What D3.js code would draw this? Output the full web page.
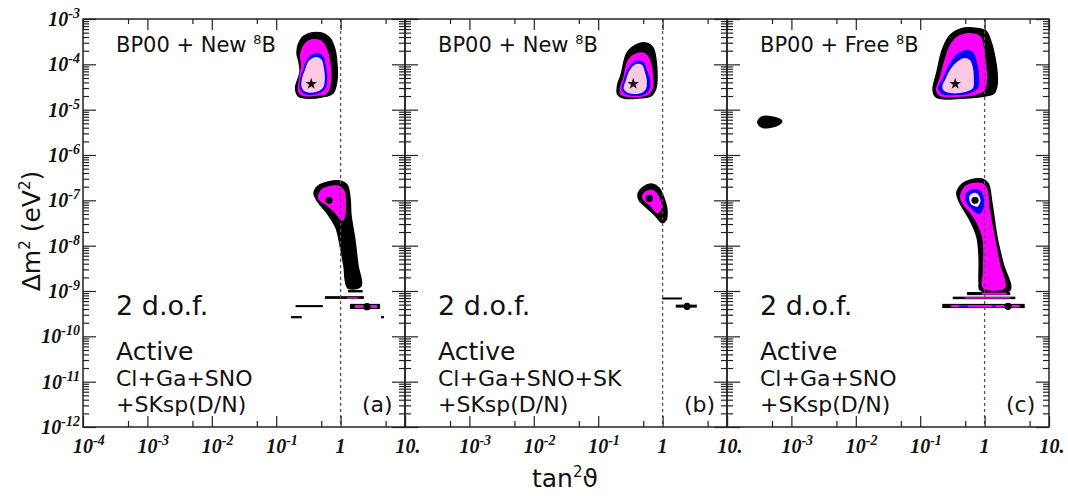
<!DOCTYPE html>
<html><head><meta charset="utf-8">
<script src="https://cdn.jsdelivr.net/npm/d3@7"></script>
<style>body{margin:0;background:#fff}svg{display:block}</style>
</head><body>
<svg id="chart" width="1068" height="496"></svg>
<script>
// ---------------- DATA ----------------
const panelIds = ["a", "b", "c"];
const panelHeads = ["BP00 + New ", "BP00 + New ", "BP00 + Free "];
const panelDataSets = ["Cl+Ga+SNO", "Cl+Ga+SNO+SK", "Cl+Ga+SNO"];
const xTickExps = [-4, -3, -2, -1, 0, 1];
const yTickExps = [-3, -4, -5, -6, -7, -8, -9, -10, -11, -12];
const levelNames = ["99.73%", "99%", "95%", "90%"];
const levelColors = ["#000000", "#ff00ff", "#0000ff", "#fcc8e4"];

// contours: [tan^2 theta, delta m^2 (eV^2)]
// panel (a)
const aLMA9973 = [[0.21,1.87e-4],[0.25,3.8e-4],[0.35,4.9e-4],[0.51,4.9e-4],[0.68,3.8e-4],[0.82,2.07e-4],[0.88,9.7e-5],[0.88,4.5e-5],[0.76,2.3e-5],[0.51,1.9e-5],[0.29,1.8e-5],[0.22,2.0e-5],[0.20,3.0e-5],[0.234,6.8e-5],[0.226,1.12e-4]];
const aLMA99 = [[0.234,1.6e-4],[0.28,2.96e-4],[0.37,3.6e-4],[0.51,3.3e-4],[0.64,1.87e-4],[0.71,8.3e-5],[0.71,4.1e-5],[0.62,2.3e-5],[0.40,2.0e-5],[0.26,2.0e-5],[0.22,2.45e-5],[0.226,5.0e-5],[0.243,9.7e-5]];
const aLMA95 = [[0.26,7.5e-5],[0.31,1.38e-4],[0.415,1.78e-4],[0.53,1.53e-4],[0.59,9.2e-5],[0.62,5.0e-5],[0.57,2.86e-5],[0.415,2.2e-5],[0.28,2.2e-5],[0.234,2.86e-5],[0.234,4.5e-5]];
const aLMA90 = [[0.28,7.5e-5],[0.32,1.18e-4],[0.415,1.45e-4],[0.51,1.25e-4],[0.55,8.3e-5],[0.57,4.7e-5],[0.53,3.0e-5],[0.415,2.45e-5],[0.29,2.45e-5],[0.25,3.0e-5],[0.25,4.7e-5]];
const aLOW9973 = [[0.386,1.45e-7],[0.446,2.07e-7],[0.64,2.54e-7],[0.98,2.67e-7],[1.26,2.18e-7],[1.40,1.12e-7],[1.45,4.7e-8],[1.67,1.33e-8],[1.86,3.7e-9],[2.07,1.29e-9],[1.30,1.16e-9],[1.12,3.7e-9],[0.98,1.03e-8],[0.85,2.45e-8],[0.62,5.2e-8],[0.446,9.2e-8]];
const aLOW99 = [[0.446,1.25e-7],[0.51,1.78e-7],[0.68,2.07e-7],[0.98,2.07e-7],[1.17,1.53e-7],[1.21,7.9e-8],[1.17,4.3e-8],[1.05,3.5e-8],[0.82,5.2e-8],[0.59,7.9e-8],[0.46,1.02e-7]];
// thin horizontal islands: [tan2 from, tan2 to, dm2 low, dm2 high, level index]
const aStrips = [[1.3,2.2,9.3e-10,1.05e-9,0],[0.57,2.3,6.7e-10,7.7e-10,0],[0.20,0.53,4.4e-10,4.9e-10,0],[1.4,4.1,4.0e-10,5.2e-10,0],[0.17,0.25,2.5e-10,2.8e-10,0],[4.24,4.72,2.5e-10,2.8e-10,0],[1.26,1.86,6.8e-10,7.3e-10,1],[1.67,3.67,4.2e-10,4.9e-10,1]];
// panel (b)
const bLMA9973 = [[0.226,5.8e-5],[0.28,1.78e-4],[0.386,2.67e-4],[0.55,2.96e-4],[0.71,2.3e-4],[0.79,1.25e-4],[0.82,5.8e-5],[0.79,3.0e-5],[0.66,2.0e-5],[0.415,1.8e-5],[0.25,1.8e-5],[0.20,2.2e-5],[0.20,3.5e-5]];
const bLMA99 = [[0.243,5.0e-5],[0.29,1.25e-4],[0.40,1.78e-4],[0.53,1.78e-4],[0.64,1.25e-4],[0.71,5.8e-5],[0.71,3.0e-5],[0.59,2.1e-5],[0.31,1.9e-5],[0.22,2.2e-5],[0.22,3.3e-5]];
const bLMA95 = [[0.25,4.5e-5],[0.30,8.7e-5],[0.386,1.18e-4],[0.50,1.12e-4],[0.57,7.5e-5],[0.64,4.5e-5],[0.62,2.7e-5],[0.50,2.1e-5],[0.29,2.1e-5],[0.234,2.6e-5]];
const bLMA90 = [[0.27,4.5e-5],[0.31,7.5e-5],[0.386,1.02e-4],[0.48,9.7e-5],[0.53,6.8e-5],[0.57,4.3e-5],[0.55,2.86e-5],[0.46,2.3e-5],[0.30,2.3e-5],[0.25,2.86e-5]];
const bLOW9973 = [[0.415,1.38e-7],[0.50,1.97e-7],[0.68,2.3e-7],[0.88,1.87e-7],[1.05,1.12e-7],[1.17,6.1e-8],[1.13,3.7e-8],[0.98,3.2e-8],[0.76,4.7e-8],[0.53,7.5e-8],[0.43,1.02e-7]];
const bLOW99 = [[0.48,1.25e-7],[0.55,1.6e-7],[0.71,1.69e-7],[0.85,1.31e-7],[0.98,7.9e-8],[0.94,5.8e-8],[0.82,5.2e-8],[0.64,7.5e-8],[0.50,1.02e-7]];
const bStrips = [[0.98,2.0,6.5e-10,7.2e-10,0],[1.6,3.4,4.3e-10,5.0e-10,0]];
// panel (c)
const cLMA9973 = [[0.182,6.8e-5],[0.22,2.07e-4],[0.29,4.4e-4],[0.415,6.0e-4],[0.71,6.3e-4],[1.05,5.4e-4],[1.26,3.1e-4],[1.45,1.38e-4],[1.56,6.8e-5],[1.56,3.5e-5],[1.40,2.3e-5],[1.01,2.0e-5],[0.50,1.8e-5],[0.243,1.72e-5],[0.176,1.9e-5],[0.158,2.7e-5]];
const cLMA99 = [[0.20,5.0e-5],[0.243,1.38e-4],[0.29,2.67e-4],[0.386,4.2e-4],[0.59,4.9e-4],[0.85,4.2e-4],[0.98,2.3e-4],[1.05,1.12e-4],[1.09,5.0e-5],[1.01,2.7e-5],[0.71,2.1e-5],[0.35,1.9e-5],[0.20,2.0e-5],[0.176,2.7e-5]];
const cLMA95 = [[0.22,4.5e-5],[0.27,8.7e-5],[0.36,1.6e-4],[0.50,2.07e-4],[0.66,1.87e-4],[0.76,1.12e-4],[0.82,5.8e-5],[0.79,3.0e-5],[0.59,2.3e-5],[0.35,2.1e-5],[0.22,2.2e-5],[0.19,3.0e-5]];
const cLMA90 = [[0.243,4.5e-5],[0.29,7.5e-5],[0.37,1.12e-4],[0.48,1.38e-4],[0.59,1.25e-4],[0.66,8.3e-5],[0.68,5.0e-5],[0.66,3.0e-5],[0.50,2.45e-5],[0.31,2.3e-5],[0.234,2.6e-5],[0.22,3.3e-5]];
const cSMA9973 = [[3.0e-4,5.3e-6],[3.5e-4,6.9e-6],[5.0e-4,6.9e-6],[7.1e-4,5.6e-6],[5.8e-4,4.4e-6],[3.5e-4,4.1e-6]];
const cLOW9973 = [[0.37,1.45e-7],[0.446,2.3e-7],[0.59,2.8e-7],[0.91,2.95e-7],[1.13,2.4e-7],[1.30,8.7e-8],[1.56,1.55e-8],[1.93,4.1e-9],[2.48,1.05e-9],[0.85,1.05e-9],[0.82,1.5e-9],[0.82,5.6e-9],[0.76,1.55e-8],[0.59,3.7e-8],[0.415,8.7e-8]];
const cLOW99 = [[0.415,1.25e-7],[0.48,1.97e-7],[0.64,2.4e-7],[0.91,2.4e-7],[1.09,1.87e-7],[1.21,6.1e-8],[1.45,1.55e-8],[1.73,4.1e-9],[2.07,1.16e-9],[0.94,1.16e-9],[0.94,2.9e-9],[0.91,1.55e-8],[0.66,4.3e-8],[0.446,8.7e-8]];
const cLOW95 = [[0.50,1.02e-7],[0.53,1.53e-7],[0.68,1.78e-7],[0.88,1.6e-7],[0.98,1.02e-7],[0.94,6.1e-8],[0.82,5.0e-8],[0.59,7.1e-8]];
const cLOW90 = [[0.57,1.18e-7],[0.66,1.45e-7],[0.79,1.38e-7],[0.85,9.2e-8],[0.76,7.1e-8],[0.62,8.7e-8]];
const cStrips = [[0.53,2.5,8.1e-10,9.5e-10,0],[0.91,2.2,8.3e-10,9.2e-10,1],[0.32,3.0,6.6e-10,7.5e-10,0],[0.5,2.5,6.8e-10,7.3e-10,1],[0.22,4.2,4.2e-10,5.2e-10,0],[0.3,3.5,4.4e-10,4.9e-10,1],[0.4,0.55,4.5e-10,4.8e-10,2],[1.3,1.5,4.5e-10,4.8e-10,2]];

// best-fit points [tan2, dm2]
const starPoints = [[0.35,3.7e-5],[0.35,3.7e-5],[0.35,3.7e-5]];
const lowFits = [[0.66,1.0e-7],[0.62,1.1e-7],[0.71,1.0e-7]];
const vacFits = [[2.57,4.5e-10],[2.4,4.6e-10],[2.31,4.6e-10]];

// ---------------- DRAW ----------------
const regionsByPanel = [
  [[aLMA9973,0],[aLMA99,1],[aLMA95,2],[aLMA90,3],[aLOW9973,0],[aLOW99,1]],
  [[bLMA9973,0],[bLMA99,1],[bLMA95,2],[bLMA90,3],[bLOW9973,0],[bLOW99,1]],
  [[cLMA9973,0],[cLMA99,1],[cLMA95,2],[cLMA90,3],[cSMA9973,0],[cLOW9973,0],[cLOW99,1],[cLOW95,2],[cLOW90,3]]
];
const stripsByPanel = [aStrips, bStrips, cStrips];

const svg = d3.select("#chart");
const panelLeft = [83, 405, 727], panelW = 322, plotTop = 19, plotBottom = 427;
const sansFont = "DejaVu Sans, sans-serif";
const serifFont = "Liberation Serif, Times New Roman, serif";

const y = d3.scaleLog().domain([1e-12, 1e-3]).range([plotBottom, plotTop]);
const majorY = yTickExps.map(e => Math.pow(10, e));
const minorY = [];
for (let e = -12; e < -3; e++) for (let k = 2; k <= 9; k++) minorY.push(k * Math.pow(10, e));

svg.append("defs").selectAll("clipPath").data(panelIds).join("clipPath")
  .attr("id", d => "clip-" + d)
  .append("rect")
  .attr("x", (d, i) => panelLeft[i]).attr("y", plotTop)
  .attr("width", panelW).attr("height", plotBottom - plotTop);

panelIds.forEach((pid, i) => {
  const x = d3.scaleLog().domain([1e-4, 10]).range([panelLeft[i], panelLeft[i] + panelW]);
  const majorX = xTickExps.map(e => Math.pow(10, e));
  const minorX = xTickExps.slice(0, -1).map(e => 5 * Math.pow(10, e));
  const g = svg.append("g");
  const plot = g.append("g").attr("clip-path", `url(#clip-${pid})`);

  const line = d3.line().x(d => x(d[0])).y(d => y(d[1])).curve(d3.curveCatmullRomClosed.alpha(0.5));
  plot.selectAll("path.region").data(regionsByPanel[i]).join("path")
    .attr("class", "region")
    .attr("d", d => line(d[0]))
    .attr("fill", d => levelColors[d[1]])
    .attr("stroke", d => d[1] === 0 ? "#000" : "none")
    .attr("stroke-width", 1.4);

  plot.selectAll("rect.strip").data(stripsByPanel[i]).join("rect")
    .attr("class", "strip")
    .attr("x", d => x(d[0])).attr("width", d => x(d[1]) - x(d[0]))
    .attr("y", d => y(d[3])).attr("height", d => y(d[2]) - y(d[3]))
    .attr("fill", d => levelColors[d[4]]);

  // tan^2 = 1 dashed line
  plot.append("line")
    .attr("x1", x(1)).attr("x2", x(1)).attr("y1", plotTop).attr("y2", plotBottom)
    .attr("stroke", "#555").attr("stroke-width", 1.3).attr("stroke-dasharray", "3,3");

  // best fits
  plot.append("path")
    .attr("d", d3.symbol(d3.symbolStar, 42)())
    .attr("transform", `translate(${x(starPoints[i][0])},${y(starPoints[i][1])})`)
    .attr("fill", "#111");
  if (i === 2) {
    plot.append("circle").attr("cx", x(lowFits[i][0])).attr("cy", y(lowFits[i][1])).attr("r", 5.5).attr("fill", "#fff");
  }
  plot.append("circle").attr("cx", x(lowFits[i][0])).attr("cy", y(lowFits[i][1])).attr("r", 3.6).attr("fill", "#000");
  plot.append("circle").attr("cx", x(vacFits[i][0])).attr("cy", y(vacFits[i][1])).attr("r", 3.6).attr("fill", "#000");

  // ticks
  const tickG = g.append("g").attr("color", "#222");
  const addAxis = (axis, vals, size, tr) => {
    tickG.append("g").attr("transform", tr)
      .call(axis.tickValues(vals).tickSize(size).tickFormat(""))
      .call(s => s.select(".domain").remove())
      .call(s => s.selectAll("line").attr("stroke-width", 1.2));
  };
  addAxis(d3.axisLeft(y), majorY, -13, `translate(${panelLeft[i]},0)`);
  addAxis(d3.axisLeft(y), minorY, -6, `translate(${panelLeft[i]},0)`);
  addAxis(d3.axisRight(y), majorY, -13, `translate(${panelLeft[i] + panelW},0)`);
  addAxis(d3.axisRight(y), minorY, -6, `translate(${panelLeft[i] + panelW},0)`);
  addAxis(d3.axisTop(x), majorX, -11, `translate(0,${plotTop})`);
  addAxis(d3.axisTop(x), minorX, -5, `translate(0,${plotTop})`);
  addAxis(d3.axisBottom(x), majorX, -11, `translate(0,${plotBottom})`);
  addAxis(d3.axisBottom(x), minorX, -6, `translate(0,${plotBottom})`);

  g.append("rect").attr("x", panelLeft[i]).attr("y", plotTop).attr("width", panelW).attr("height", plotBottom - plotTop)
    .attr("fill", "none").attr("stroke", "#222").attr("stroke-width", 1.5);

  // x tick labels
  const labExps = i === 0 ? xTickExps : xTickExps.slice(1);
  labExps.forEach(e => {
    const xx = x(Math.pow(10, e));
    const t = svg.append("text").attr("y", 453)
      .attr("font-family", serifFont).attr("font-weight", "bold").attr("font-style", "italic")
      .attr("font-size", 20).attr("fill", "#111");
    if (e === 0) { t.attr("x", xx).attr("text-anchor", "middle").text("1"); }
    else if (e === 1) { t.attr("x", xx + 3).attr("text-anchor", "middle").text("10."); }
    else {
      t.attr("x", xx - 10).text("10");
      t.append("tspan").attr("dy", -8).attr("font-size", 14).text(String(e));
    }
  });

  // panel texts
  const head = g.append("text").attr("x", panelLeft[i] + 33).attr("y", 52)
    .attr("font-family", sansFont).attr("font-size", 21).attr("fill", "#111").text(panelHeads[i]);
  head.append("tspan").attr("dy", -8).attr("font-size", 13).text("8");
  head.append("tspan").attr("dy", 8).text("B");
  g.append("text").attr("x", panelLeft[i] + 33).attr("y", 315)
    .attr("font-family", sansFont).attr("font-size", 27).attr("fill", "#111").text("2 d.o.f.");
  g.append("text").attr("x", panelLeft[i] + 33).attr("y", 360)
    .attr("font-family", sansFont).attr("font-size", 25).attr("fill", "#111").text("Active");
  g.append("text").attr("x", panelLeft[i] + 33).attr("y", 386)
    .attr("font-family", sansFont).attr("font-size", 22).attr("fill", "#111").text(panelDataSets[i]);
  g.append("text").attr("x", panelLeft[i] + 33).attr("y", 412)
    .attr("font-family", sansFont).attr("font-size", 22).attr("fill", "#111").text("+SKsp(D/N)");
  g.append("text").attr("x", panelLeft[i] + 279).attr("y", 412)
    .attr("font-family", sansFont).attr("font-size", 22).attr("fill", "#111").text(`(${pid})`);
});

// y tick labels
yTickExps.forEach(e => {
  const t = svg.append("text").attr("x", 80).attr("y", y(Math.pow(10, e)) + 7)
    .attr("text-anchor", "end")
    .attr("font-family", serifFont).attr("font-weight", "bold").attr("font-style", "italic")
    .attr("font-size", 20).attr("fill", "#111").text("10");
  t.append("tspan").attr("dy", -8).attr("font-size", 14).text(String(e));
});

// axis titles
const yt = svg.append("text").attr("transform", "translate(40,231) rotate(-90)")
  .attr("text-anchor", "middle").attr("font-family", sansFont).attr("font-size", 25).attr("fill", "#111")
  .text("Δm");
yt.append("tspan").attr("dy", -10).attr("font-size", 15).text("2");
yt.append("tspan").attr("dy", 10).text(" (eV");
yt.append("tspan").attr("dy", -10).attr("font-size", 15).text("2");
yt.append("tspan").attr("dy", 10).text(")");

const xt = svg.append("text").attr("x", 565).attr("y", 487)
  .attr("text-anchor", "middle").attr("font-family", sansFont).attr("font-size", 25).attr("fill", "#111")
  .text("tan");
xt.append("tspan").attr("dy", -10).attr("font-size", 15).text("2");
xt.append("tspan").attr("dy", 10).text("ϑ");
</script>
</body></html>
